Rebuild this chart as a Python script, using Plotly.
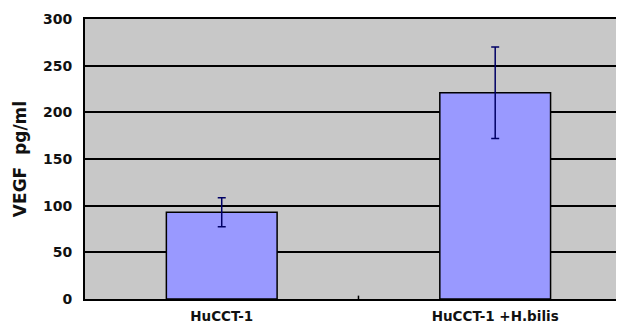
import plotly.graph_objects as go

categories = ["HuCCT-1", "HuCCT-1 +H.bilis"]
values = [93, 221]
errors = [15.5, 49]
y_ticks = [0, 50, 100, 150, 200, 250, 300]

fig = go.Figure()
fig.add_trace(go.Bar(
    x=[0, 1], y=values, width=0.405,
    marker=dict(color="#9999ff", line=dict(color="#000000", width=1.5)),
    error_y=dict(type="data", array=errors, visible=True, color="#000066", thickness=1.5, width=4),
))

fig.update_layout(
    width=616, height=322,
    margin=dict(l=77, r=0, t=11, b=31, autoexpand=False),
    paper_bgcolor="white", plot_bgcolor="#c8c8c8",
    showlegend=False,
    font=dict(family="DejaVu Sans", color="#111111"),
    xaxis=dict(
        range=[-0.5, 1.471], tickvals=[0, 1], ticktext=categories,
        showgrid=False, zeroline=False, automargin=False,
        showline=True, linecolor="#000000", linewidth=2, mirror=True,
        ticks="", tickfont=dict(size=13.5, weight="bold"), ticklabelstandoff=4,
    ),
    yaxis=dict(
        range=[0, 300], tickvals=y_ticks, automargin=False,
        showgrid=True, gridcolor="#000000", gridwidth=1.5,
        zeroline=False, showline=True, linecolor="#000000", linewidth=2,
        ticks="", tickfont=dict(size=14, weight="bold"), ticklabelstandoff=8,
        title=dict(text="VEGF  pg/ml", font=dict(size=17, weight="bold"), standoff=12),
    ),
)
# small separator tick between categories on the x axis
fig.add_shape(type="line", xref="x", yref="paper", x0=0.5, x1=0.5, y0=0, y1=0.012,
              line=dict(color="#000000", width=1.5))

fig.write_html("out.html")
